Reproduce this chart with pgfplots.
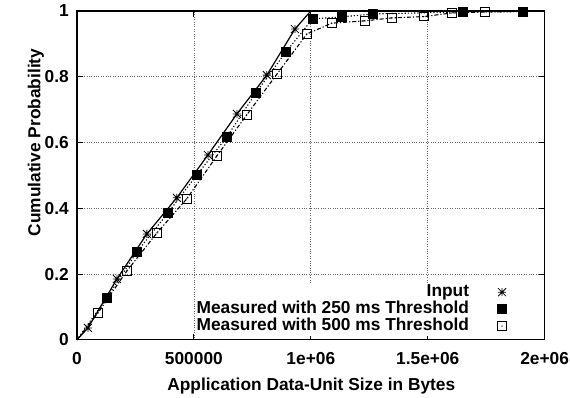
\documentclass[border=0pt]{standalone}
\usepackage{pgfplots}
\pgfplotsset{compat=1.18}
\usepackage{fontspec}
\setmainfont{Liberation Sans}
\pgfdeclareplotmark{gpstar}{%
  \pgfpathmoveto{\pgfqpoint{-\pgfplotmarksize}{0pt}}\pgfpathlineto{\pgfqpoint{\pgfplotmarksize}{0pt}}%
  \pgfpathmoveto{\pgfqpoint{0pt}{-\pgfplotmarksize}}\pgfpathlineto{\pgfqpoint{0pt}{\pgfplotmarksize}}%
  \pgfpathmoveto{\pgfqpoint{-\pgfplotmarksize}{-\pgfplotmarksize}}\pgfpathlineto{\pgfqpoint{\pgfplotmarksize}{\pgfplotmarksize}}%
  \pgfpathmoveto{\pgfqpoint{-\pgfplotmarksize}{\pgfplotmarksize}}\pgfpathlineto{\pgfqpoint{\pgfplotmarksize}{-\pgfplotmarksize}}%
  \pgfusepathqstroke}
\pgfdeclareplotmark{gpbox}{%
  \pgfpathrectangle{\pgfqpoint{-\pgfplotmarksize}{-\pgfplotmarksize}}{\pgfqpoint{2\pgfplotmarksize}{2\pgfplotmarksize}}%
  \pgfusepathqstroke
  \pgfpathcircle{\pgfpointorigin}{0.7pt}\pgfusepathqfill}
\begin{document}
\begin{tikzpicture}
\begin{axis}[
  scale only axis,
  width=468bp, height=329bp,
  clip=false,
  xmin=0, xmax=2000000, ymin=0, ymax=1,
  xtick={0,500000,1000000,1500000,2000000},
  xticklabels={0,500000,1e+06,1.5e+06,2e+06},
  ytick={0,0.2,0.4,0.6,0.8,1},
  yticklabels={0,0.2,0.4,0.6,0.8,1},
  scaled x ticks=false,
  tick align=inside, tick pos=both,
  major tick length=6bp,
  tick style={black, line width=0.8pt},
  axis line style={black, line width=1.2pt},
  grid=major,
  major grid style={gray!80!black, dotted, line width=0.7pt},
  ticklabel style={font=\fontsize{17.4}{20}\bfseries, inner sep=1bp},
  xticklabel style={yshift=-11bp},
  yticklabel style={xshift=-7bp},
  label style={font=\fontsize{17.4}{20}\bfseries},
  xlabel={Application Data-Unit Size in Bytes},
  ylabel={Cumulative Probability},
  xlabel style={at={(axis description cs:0.501,-0.142)}, anchor=center},
  ylabel style={at={(axis description cs:-0.088,0.60)}, anchor=center, rotate=0},
  legend cell align=right,
  legend plot pos=right,
  legend style={at={(rel axis cs:0.921,0.012)}, anchor=south east, draw=none, fill=white,
    font=\fontsize{17.4}{20}\bfseries, inner sep=1bp, row sep=0pt, column sep=28bp,
    nodes={inner sep=0.5bp, text height=12.5bp, text depth=3.5bp}},
]
\path (rel axis cs:0,0) ++(-77bp,-58bp) rectangle ++(570bp,398bp);
% lines
\addplot[black, line width=1.2pt, forget plot] coordinates {
  (0,0) (47000,0.036) (171000,0.185) (299000,0.322) (427000,0.432) (560000,0.562)
  (684000,0.687) (812000,0.805) (932000,0.945) (1000000,1) (2000000,1)};
\addplot[black, line width=1.1pt, dash pattern=on 1.2pt off 2pt, forget plot] coordinates {
  (0,0) (128000,0.128) (256000,0.267) (389000,0.386) (513000,0.502) (641000,0.617)
  (765000,0.751) (893000,0.875) (1008000,0.976) (1132000,0.982) (1265000,0.991)
  (1650000,0.997) (1906000,0.998) (2000000,1)};
\addplot[black, line width=1.1pt, dash pattern=on 4pt off 2pt on 1.2pt off 2pt, forget plot] coordinates {
  (0,0) (90000,0.082) (214000,0.21) (342000,0.325) (470000,0.429) (598000,0.559)
  (726000,0.684) (855000,0.808) (983000,0.93) (1090000,0.963) (1231000,0.97)
  (1346000,0.979) (1483000,0.983) (1603000,0.994) (1744000,0.997) (2000000,1)};
% marks
\addplot[only marks, mark=gpstar, mark size=4bp, black, line width=0.8pt] coordinates {
  (47000,0.036) (171000,0.185) (299000,0.322) (427000,0.432) (560000,0.562)
  (684000,0.687) (812000,0.805) (932000,0.945)};
\addlegendentry{Input}
\addplot[only marks, mark=square*, mark size=4.5bp, black] coordinates {
  (128000,0.128) (256000,0.267) (389000,0.386) (513000,0.502) (641000,0.617)
  (765000,0.751) (893000,0.875) (1008000,0.976) (1132000,0.982) (1265000,0.991)
  (1650000,0.997) (1906000,0.998)};
\addlegendentry{Measured with 250 ms Threshold}
\addplot[only marks, mark=gpbox, mark size=4.3bp, black, line width=0.8pt] coordinates {
  (90000,0.082) (214000,0.21) (342000,0.325) (470000,0.429) (598000,0.559)
  (726000,0.684) (855000,0.808) (983000,0.93) (1090000,0.963) (1231000,0.97)
  (1346000,0.979) (1483000,0.983) (1603000,0.994) (1744000,0.997)};
\addlegendentry{Measured with 500 ms Threshold}
\end{axis}
\end{tikzpicture}
\end{document}
